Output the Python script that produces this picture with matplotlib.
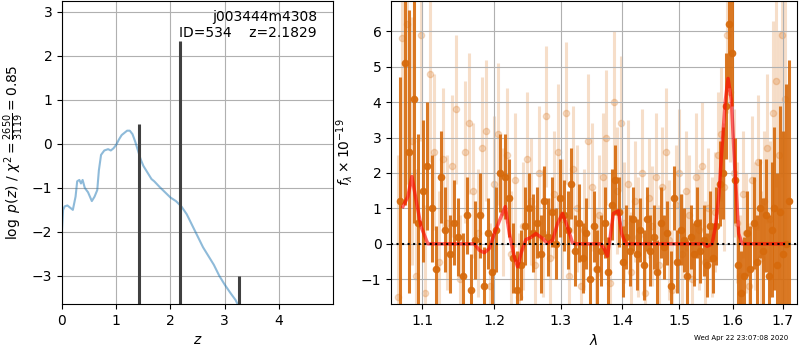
import numpy as np
import matplotlib
matplotlib.use('Agg')
import matplotlib.pyplot as plt
from matplotlib.ticker import FixedLocator, NullLocator, FixedFormatter

# --- left panel: log p(z) ---
z_grid = [0.0, 0.02, 0.05, 0.1, 0.15, 0.2, 0.25, 0.28, 0.32, 0.35,
          0.38, 0.42, 0.48, 0.55, 0.6, 0.65, 0.68, 0.72, 0.78, 0.85,
          0.9, 0.95, 1.0, 1.05, 1.1, 1.15, 1.2, 1.25, 1.3, 1.35,
          1.4, 1.45, 1.5, 1.6, 1.65, 1.7, 1.8, 1.9, 2.0, 2.1,
          2.2, 2.3, 2.4, 2.5, 2.6, 2.7, 2.8, 2.9, 3.0, 3.1,
          3.2, 3.26]
logpz = [-1.95, -1.5, -1.42, -1.4, -1.45, -1.5, -1.2, -0.85, -0.82, -0.9,
         -0.82, -1.0, -1.1, -1.3, -1.2, -1.05, -0.6, -0.25, -0.15, -0.12,
         -0.15, -0.1, -0.02, 0.1, 0.2, 0.25, 0.3, 0.3, 0.22, 0.05,
         -0.15, -0.35, -0.5, -0.7, -0.8, -0.85, -0.98, -1.1, -1.22, -1.3,
         -1.42, -1.6, -1.85, -2.1, -2.35, -2.55, -2.75, -3.0, -3.2, -3.38,
         -3.55, -3.7]
peak_z = [1.42, 2.18, 3.27]
peak_val = [0.45, 2.35, -3.0]

# --- right panel: spectrum ---
model_lam = [1.0747, 1.0811, 1.0864, 1.0920, 1.0986, 1.1075, 1.1715, 1.1785, 1.1857, 1.1929,
             1.2001, 1.2098, 1.2161, 1.2220, 1.2294, 1.2343, 1.2393, 1.2467, 1.2543, 1.2618,
             1.2720, 1.2797, 1.2874, 1.2952, 1.3030, 1.3109, 1.3188, 1.3241, 1.3646, 1.3701,
             1.3756, 1.3795, 1.3856, 1.3939, 1.3995, 1.4063, 1.5453, 1.5515, 1.5609, 1.5672,
             1.5735, 1.5798, 1.5862, 1.5913, 1.5977, 1.6042, 1.6119, 1.6184, 1.7016]
model_flux = [1.05, 1.33, 1.9, 1.23, 0.48, 0.0, 0.0, -0.18, -0.25, -0.13,
              0.29, 0.76, 1.05, 0.29, -0.37, -0.65, -0.27, 0.12, 0.18, 0.29,
              0.15, 0.01, 0.1, 0.57, 0.86, 0.48, 0.03, 0.0, 0.0, -0.13,
              -0.35, 0.1, 0.86, 0.93, 0.29, 0.0, 0.0, -0.07, 0.0, 0.48,
              1.33, 2.74, 4.06, 4.67, 4.06, 2.18, 0.29, 0.0, 0.0]

dark_lam = [1.071, 1.077, 1.083, 1.089, 1.095, 1.101, 1.107, 1.113, 1.119, 1.125,
            1.131, 1.137, 1.143, 1.149, 1.155, 1.161, 1.167, 1.173, 1.179, 1.185,
            1.191, 1.197, 1.203, 1.209, 1.215, 1.221, 1.227, 1.233, 1.239, 1.245,
            1.251, 1.257, 1.263, 1.269, 1.275, 1.281, 1.287, 1.293, 1.299, 1.305,
            1.311, 1.317, 1.323, 1.329, 1.335, 1.341, 1.347, 1.353, 1.359, 1.365,
            1.371, 1.377, 1.383, 1.389, 1.395, 1.401, 1.407, 1.413, 1.419, 1.425,
            1.431, 1.437, 1.443, 1.449, 1.455, 1.461, 1.467, 1.473, 1.479, 1.485,
            1.491, 1.497, 1.503, 1.509, 1.515, 1.521, 1.527, 1.533, 1.539, 1.545,
            1.551, 1.557, 1.563, 1.569, 1.575, 1.581, 1.587, 1.593, 1.599, 1.605,
            1.611, 1.617, 1.623, 1.629, 1.635, 1.641, 1.647, 1.653, 1.659, 1.665,
            1.671, 1.677, 1.683, 1.689, 1.695, 1.701, 1.707, 1.713]
dark_flux = [1.2, 5.1, 2.6, 4.1, 0.6, 1.5, 2.2, 1.0, -0.7, 1.9,
             0.4, -0.3, 0.6, 0.2, -0.9, 0.8, -1.3, 0.1, 0.8, -1.2,
             0.3, -0.8, 0.4, 2.0, 1.9, 1.3, -0.4, -1.3, -0.6, 0.5,
             1.0, 0.3, 0.6, -0.3, 1.2, 0.2, 0.9, 0.0, 1.3, 0.8,
             0.4, 1.7, -0.2, 0.6, -0.4, 0.3, -1.0, 0.5, -0.7, -0.2,
             0.6, -0.8, 1.1, 1.8, 0.9, -0.5, 0.2, -0.2, 0.7, -0.3,
             0.4, -0.6, 0.7, -0.2, 0.2, -0.8, 0.6, -0.1, 0.3, -1.2,
             1.3, -0.5, 0.4, 0.1, -0.9, 0.2, -0.3, 0.6, -0.2, 0.1,
             -0.6, 0.5, -0.4, 0.5, 1.7, 2.0, 3.9, 6.2, 5.4, 1.8,
             -0.6, -1.4, -0.9, 0.3, -0.7, 0.6, -0.5, 1.0, -0.2, 0.8,
             -0.9, 0.4, 1.0, -0.6, 0.9, -0.3, 0.0, 1.2]
dark_err = [3.5, 4.0, 4.0, 3.5, 2.5, 2.0, 1.8, 1.5, 1.2, 1.3,
            1.2, 1.1, 1.2, 1.1, 1.2, 1.1, 1.0, 1.1, 1.2, 1.1,
            1.0, 1.1, 1.2, 1.1, 1.2, 1.1, 1.0, 1.1, 1.0, 1.1,
            1.0, 1.1, 1.0, 1.1, 1.0, 1.1, 1.0, 1.0, 1.1, 1.0,
            1.1, 1.0, 1.0, 1.1, 1.0, 1.0, 1.0, 1.0, 1.1, 1.0,
            1.0, 1.0, 1.0, 1.0, 1.0, 1.0, 0.9, 1.0, 0.9, 1.0,
            0.9, 1.0, 0.9, 1.0, 0.9, 0.9, 1.0, 0.9, 0.9, 1.0,
            0.9, 0.9, 1.0, 0.9, 1.0, 0.9, 0.9, 1.0, 0.9, 1.0,
            0.9, 1.0, 1.0, 1.1, 1.2, 1.3, 1.5, 1.8, 1.5, 1.2,
            1.1, 1.2, 1.1, 1.2, 1.2, 1.3, 1.3, 1.4, 1.5, 1.6,
            1.7, 1.9, 2.3, 2.6, 3.0, 3.5, 4.5, 4.0]

light_lam = [1.068, 1.074, 1.080, 1.086, 1.092, 1.098, 1.104, 1.110, 1.116, 1.122,
             1.128, 1.134, 1.140, 1.146, 1.152, 1.158, 1.164, 1.170, 1.176, 1.182,
             1.188, 1.194, 1.200, 1.206, 1.212, 1.218, 1.224, 1.230, 1.236, 1.242,
             1.248, 1.254, 1.260, 1.266, 1.272, 1.278, 1.284, 1.290, 1.296, 1.302,
             1.308, 1.314, 1.320, 1.326, 1.332, 1.338, 1.344, 1.350, 1.356, 1.362,
             1.368, 1.374, 1.380, 1.386, 1.392, 1.398, 1.404, 1.410, 1.416, 1.422,
             1.428, 1.434, 1.440, 1.446, 1.452, 1.458, 1.464, 1.470, 1.476, 1.482,
             1.488, 1.494, 1.500, 1.506, 1.512, 1.518, 1.524, 1.530, 1.536, 1.542,
             1.548, 1.554, 1.560, 1.566, 1.572, 1.578, 1.584, 1.590, 1.596, 1.602,
             1.608, 1.614, 1.620, 1.626, 1.632, 1.638, 1.644, 1.650, 1.656, 1.662,
             1.668, 1.674, 1.680, 1.686, 1.692, 1.698, 1.704]
light_flux = [-1.5, 5.8, 6.2, 2.9, -0.9, 5.9, -1.4, 4.8, 2.6, -0.5,
              2.4, 0.6, 2.2, 3.8, -1.0, 2.6, 3.4, 1.5, 0.3, 2.7,
              3.2, -1.2, 1.7, 3.1, 0.9, 2.5, -0.3, 1.8, -1.5, 0.5,
              2.4, 1.2, -0.6, 2.0, 0.3, 3.6, -0.4, 1.4, 2.6, 0.7,
              3.7, -0.9, 2.1, 1.0, -1.2, 0.4, 2.9, 1.6, -0.7, 0.8,
              1.9, 3.0, -1.1, 4.0, 1.5, 3.4, 0.6, 1.7, -0.8, 1.2,
              0.2, 2.0, -1.4, 1.3, 0.5, 1.9, -0.6, 1.6, 2.6, 0.1,
              -1.3, 1.1, 2.0, -0.3, 1.5, 0.8, -1.0, 1.9, 0.4, 2.2,
              -0.5, 1.0, 0.2, 0.9, 2.5, 3.1, 1.6, 5.9, 4.3, 2.0,
              0.6, -0.9, 1.4, 0.3, -1.2, 1.8, 0.5, 2.3, -0.4, 1.2,
              2.7, 0.7, 3.7, 4.6, 2.5, 5.9, 4.1]
light_err = [4.0, 4.5, 4.5, 3.5, 3.0, 3.0, 2.5, 2.5, 2.2, 2.0,
             2.0, 1.9, 2.0, 2.1, 1.8, 2.0, 2.0, 1.9, 1.8, 2.0,
             2.0, 1.8, 1.9, 2.0, 1.8, 1.9, 1.8, 1.9, 1.8, 1.8,
             1.9, 1.8, 1.7, 1.9, 1.8, 2.0, 1.7, 1.8, 1.9, 1.7,
             2.0, 1.7, 1.8, 1.8, 1.7, 1.7, 1.9, 1.8, 1.7, 1.7,
             1.8, 1.9, 1.7, 2.0, 1.8, 1.9, 1.7, 1.8, 1.7, 1.7,
             1.7, 1.8, 1.7, 1.7, 1.7, 1.8, 1.7, 1.7, 1.8, 1.7,
             1.7, 1.7, 1.8, 1.7, 1.7, 1.7, 1.7, 1.8, 1.7, 1.8,
             1.7, 1.7, 1.7, 1.7, 1.8, 1.9, 1.8, 2.2, 2.0, 1.8,
             1.7, 1.7, 1.8, 1.7, 1.8, 1.8, 1.8, 1.9, 1.9, 2.0,
             2.1, 2.2, 2.6, 3.0, 3.5, 4.0, 4.0]

lam_ticks = [1.1, 1.2, 1.3, 1.4, 1.5, 1.6, 1.7]
date_str = 'Wed Apr 22 23:07:08 2020'

fig = plt.figure(figsize=(8, 3.5), dpi=100)

# left: redshift pdf
ax = fig.add_axes([0.0775, 0.1314, 0.339, 0.866])
ax.plot(z_grid, logpz, color='tab:blue', alpha=0.5, lw=1.5)
ax.vlines(peak_z, -3.64, peak_val, color='0.25', lw=2.2)
ax.set_xlim(0, 5.0)
ax.set_ylim(-3.64, 3.25)
ax.set_xticks([0, 1, 2, 3, 4])
ax.set_yticks([-3, -2, -1, 0, 1, 2, 3])
ax.grid()
ax.set_xlabel(r'$z$')
ax.set_ylabel(r'$\log\ p(z)$ / $\chi^2=\frac{2650}{3119}=0.85$')
ax.text(0.94, 0.97, 'j003444m4308\nID=534    z=2.1829', transform=ax.transAxes,
        ha='right', va='top', fontsize=10)

# right: spectrum
ax2 = fig.add_axes([0.489, 0.1314, 0.507, 0.866])
c = '#d66a0c'
ax2.errorbar(light_lam, light_flux, yerr=light_err, fmt='o', color=c, ms=4.5,
             lw=2.2, alpha=0.22, zorder=1)
ax2.errorbar(dark_lam, dark_flux, yerr=dark_err, fmt='o', color=c, ms=4.5,
             lw=2.2, alpha=0.9, zorder=2)
ax2.plot(model_lam, model_flux, color='r', alpha=0.6, lw=2.5, zorder=4)
ax2.axhline(0, color='k', ls=':', lw=1.5, zorder=5)
ax2.set_xscale('log')
ax2.xaxis.set_major_locator(FixedLocator(lam_ticks))
ax2.xaxis.set_major_formatter(FixedFormatter([str(t) for t in lam_ticks]))
ax2.xaxis.set_minor_locator(NullLocator())
ax2.set_xlim(1.0596, 1.729)
ax2.set_ylim(-1.70, 6.86)
ax2.set_yticks([-1, 0, 1, 2, 3, 4, 5, 6])
ax2.grid()
ax2.set_xlabel(r'$\lambda$')
ax2.set_ylabel(r'$f_\lambda\times10^{-19}$')

fig.text(0.985, 0.025, date_str, ha='right', va='bottom', fontsize=5)

fig.savefig('out.png', dpi=100)
